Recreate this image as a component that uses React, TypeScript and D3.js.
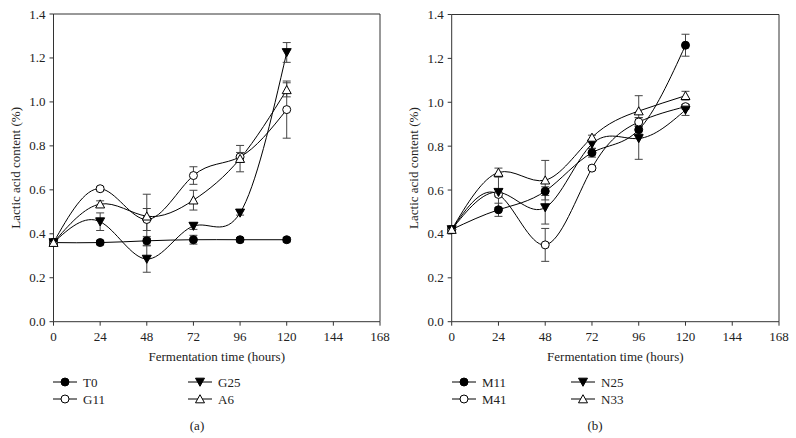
import React from "react";
import * as d3 from "d3";

const hours = [0, 24, 48, 72, 96, 120];
const xTicks = [0, 24, 48, 72, 96, 120, 144, 168];
const yTicks = [0.0, 0.2, 0.4, 0.6, 0.8, 1.0, 1.2, 1.4];

// Panel (a)
const T0 = [0.36, 0.36, 0.368, 0.373, 0.373, 0.373];
const T0err = [0.01, 0.01, 0.02, 0.02, 0.01, 0.01];
const G11 = [0.36, 0.605, 0.465, 0.665, 0.75, 0.965];
const G11err = [0.01, 0.01, 0.05, 0.04, 0.02, 0.13];
const G25 = [0.36, 0.455, 0.285, 0.435, 0.495, 1.225];
const G25err = [0.01, 0.04, 0.06, 0.015, 0.01, 0.045];
const A6 = [0.36, 0.535, 0.48, 0.553, 0.742, 1.055];
const A6err = [0.01, 0.015, 0.1, 0.045, 0.06, 0.032];

// Panel (b)
const M11 = [0.42, 0.51, 0.595, 0.77, 0.875, 1.26];
const M11err = [0.01, 0.03, 0.02, 0.02, 0.02, 0.05];
const M41 = [0.42, 0.58, 0.35, 0.7, 0.91, 0.98];
const M41err = [0.01, 0.01, 0.075, 0.01, 0.02, 0.01];
const N25 = [0.42, 0.59, 0.52, 0.81, 0.835, 0.965];
const N25err = [0.01, 0.07, 0.075, 0.02, 0.095, 0.025];
const N33 = [0.42, 0.68, 0.645, 0.84, 0.96, 1.03];
const N33err = [0.01, 0.02, 0.09, 0.01, 0.07, 0.02];

type Sym = "fcircle" | "ocircle" | "ftri" | "otri";
type Series = { name: string; values: number[]; err: number[]; sym: Sym };

const seriesA: Series[] = [
  { name: "T0", values: T0, err: T0err, sym: "fcircle" },
  { name: "G11", values: G11, err: G11err, sym: "ocircle" },
  { name: "G25", values: G25, err: G25err, sym: "ftri" },
  { name: "A6", values: A6, err: A6err, sym: "otri" },
];
const seriesB: Series[] = [
  { name: "M11", values: M11, err: M11err, sym: "fcircle" },
  { name: "M41", values: M41, err: M41err, sym: "ocircle" },
  { name: "N25", values: N25, err: N25err, sym: "ftri" },
  { name: "N33", values: N33, err: N33err, sym: "otri" },
];

const FONT = "'Liberation Serif', 'Times New Roman', serif";
const AXIS = "#333";
const ERR = "#444";

function Marker({ x, y, sym }: { x: number; y: number; sym: Sym }) {
  if (sym === "fcircle") return <circle cx={x} cy={y} r={4} fill="#000" stroke="#000" strokeWidth={1} />;
  if (sym === "ocircle") return <circle cx={x} cy={y} r={4} fill="#fff" stroke="#000" strokeWidth={1} />;
  const s = 4.5;
  if (sym === "ftri")
    return (
      <path d={`M${x - s},${y - s * 0.85} L${x + s},${y - s * 0.85} L${x},${y + s * 0.95} Z`} fill="#000" stroke="#000" strokeWidth={1} />
    );
  return (
    <path d={`M${x - s},${y + s * 0.85} L${x + s},${y + s * 0.85} L${x},${y - s * 0.95} Z`} fill="#fff" stroke="#000" strokeWidth={1} />
  );
}

type PanelProps = {
  series: Series[];
  left: number;
  right: number;
  top: number;
  bottom: number;
  titleX: number;
  label: string;
  labelX: number;
  legCol1: number;
  legCol2: number;
};

function Panel({ series, left, right, top, bottom, titleX, label, labelX, legCol1, legCol2 }: PanelProps) {
  const x = d3.scaleLinear().domain([0, 168]).range([left, right]);
  const y = d3.scaleLinear().domain([0, 1.4]).range([bottom, top]);
  const line = d3
    .line<number>()
    .x((_, i) => x(hours[i]))
    .y((v) => y(v))
    .curve(d3.curveNatural);
  const cx = (left + right) / 2;
  const cy = (top + bottom) / 2;
  const cap = 4;
  const legRows = [382, 399];
  const legPos = [
    { col: legCol1, row: legRows[0] },
    { col: legCol1, row: legRows[1] },
    { col: legCol2, row: legRows[0] },
    { col: legCol2, row: legRows[1] },
  ];
  return (
    <g>
      {/* frame */}
      <line x1={left} x2={right} y1={top} y2={top} stroke={AXIS} strokeWidth={1} />
      <line x1={right} x2={right} y1={top} y2={bottom} stroke={AXIS} strokeWidth={1} />
      <line x1={left} x2={left} y1={top} y2={bottom} stroke={AXIS} strokeWidth={1} />
      <line x1={left} x2={right} y1={bottom} y2={bottom} stroke={AXIS} strokeWidth={1} />
      {yTicks.map((t) => (
        <g key={"y" + t}>
          <line x1={left - 4} x2={left} y1={y(t)} y2={y(t)} stroke={AXIS} />
          <text x={left - 8} y={y(t) + 4.5} textAnchor="end" fontSize={13} fontFamily={FONT} fill="#222">
            {t.toFixed(1)}
          </text>
        </g>
      ))}
      {xTicks.map((t) => (
        <g key={"x" + t}>
          <line x1={x(t)} x2={x(t)} y1={bottom} y2={bottom + 4} stroke={AXIS} />
          <text x={x(t)} y={bottom + 19.5} textAnchor="middle" fontSize={13} fontFamily={FONT} fill="#222">
            {t}
          </text>
        </g>
      ))}
      <text x={cx} y={bottom + 39} textAnchor="middle" fontSize={13} fontFamily={FONT} fill="#222">
        Fermentation time (hours)
      </text>
      <text
        transform={`translate(${titleX},${cy}) rotate(-90)`}
        textAnchor="middle"
        fontSize={13}
        fontFamily={FONT}
        fill="#222"
      >
        Lactic acid content (%)
      </text>
      {/* lines */}
      {series.map((s) => (
        <path key={"l" + s.name} d={line(s.values) || ""} fill="none" stroke="#000" strokeWidth={1} />
      ))}
      {/* error bars */}
      {series.map((s) =>
        s.values.map((v, i) => (
          <g key={"e" + s.name + i} stroke={ERR} strokeWidth={1}>
            <line x1={x(hours[i])} x2={x(hours[i])} y1={y(v - s.err[i])} y2={y(v + s.err[i])} />
            <line x1={x(hours[i]) - cap} x2={x(hours[i]) + cap} y1={y(v + s.err[i])} y2={y(v + s.err[i])} />
            <line x1={x(hours[i]) - cap} x2={x(hours[i]) + cap} y1={y(v - s.err[i])} y2={y(v - s.err[i])} />
          </g>
        ))
      )}
      {/* markers */}
      {series.map((s) =>
        s.values.map((v, i) => <Marker key={"m" + s.name + i} x={x(hours[i])} y={y(v)} sym={s.sym} />)
      )}
      {/* legend */}
      {series.map((s, i) => {
        const p = legPos[i];
        return (
          <g key={"lg" + s.name}>
            <line x1={p.col - 12} x2={p.col + 12} y1={p.row} y2={p.row} stroke="#000" />
            <Marker x={p.col} y={p.row} sym={s.sym} />
            <text x={p.col + 18} y={p.row + 4.5} fontSize={13} fontFamily={FONT} fill="#222">
              {s.name}
            </text>
          </g>
        );
      })}
      <text x={labelX} y={429.5} textAnchor="middle" fontSize={13} fontFamily={FONT} fill="#222">
        {label}
      </text>
    </g>
  );
}

export default function App() {
  return (
    <svg width={796} height={438} style={{ position: "absolute", left: 0, top: 0, background: "#fff" }}>
      <rect width={796} height={438} fill="#fff" />
      <Panel
        series={seriesA}
        left={53.5}
        right={380}
        top={14}
        bottom={321.7}
        titleX={19.5}
        label="(a)"
        labelX={197}
        legCol1={65}
        legCol2={200}
      />
      <Panel
        series={seriesB}
        left={451.7}
        right={779}
        top={14.5}
        bottom={321.7}
        titleX={418}
        label="(b)"
        labelX={595}
        legCol1={464}
        legCol2={583}
      />
    </svg>
  );
}
